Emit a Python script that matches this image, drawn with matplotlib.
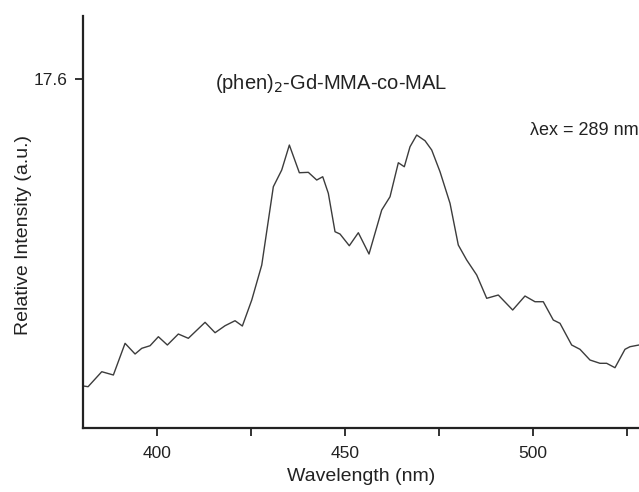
import matplotlib
matplotlib.use("Agg")
import matplotlib.pyplot as plt

plt.rcParams['font.family'] = ['Liberation Sans', 'DejaVu Sans']

wavelength = [380.4, 381.65, 385.29, 388.38, 391.49, 394.15, 395.93, 398.14, 400.35, 402.74,
              405.66, 408.32, 412.77, 415.43, 418.09, 420.74, 422.69, 425.19, 427.85, 430.93,
              433.16, 435.19, 437.85, 440.24, 442.47, 444.07, 445.56, 447.34, 448.67, 451.14,
              453.54, 456.38, 459.76, 461.97, 464.18, 465.77, 467.29, 469.07, 471.28, 473.06,
              475.27, 477.93, 480.13, 482.37, 485.03, 487.69, 490.77, 494.60, 497.87, 500.53,
              502.74, 505.40, 507.18, 510.29, 512.50, 515.16, 517.82, 519.60, 521.81, 524.47,
              525.80, 528.19]
intensity = [2.118, 2.083, 2.839, 2.673, 4.271, 3.732, 4.019, 4.150, 4.604, 4.186,
             4.740, 4.524, 5.330, 4.806, 5.159, 5.411, 5.144, 6.455, 8.220, 12.169,
             13.011, 14.272, 12.875, 12.895, 12.507, 12.673, 11.836, 9.899, 9.783, 9.193,
             9.849, 8.775, 10.994, 11.664, 13.379, 13.177, 14.186, 14.776, 14.489, 14.020,
             12.925, 11.332, 9.229, 8.472, 7.716, 6.541, 6.707, 5.951, 6.657, 6.369,
             6.369, 5.446, 5.280, 4.186, 3.969, 3.429, 3.263, 3.263, 3.041, 3.969,
             4.100, 4.186]
x_major = [400, 450, 500]
x_minor = [425, 475, 525]
y_ticks = [17.6]

W, H = 639, 492
fig = plt.figure(figsize=(W / 100, H / 100), dpi=100)
left, right, top, bottom = 83, 639, 16, 428
ax = fig.add_axes([left / W, 1 - bottom / H, (right - left) / W, (bottom - top) / H])

ax.plot(wavelength, intensity, color='#3c3c3c', lw=1.0, solid_joinstyle='round')
ax.set_xlim(380.3, 528.2)
ax.set_ylim(0, 20.78)

for s in ['top', 'right']:
    ax.spines[s].set_visible(False)
for s in ['left', 'bottom']:
    ax.spines[s].set_linewidth(1.6)
    ax.spines[s].set_color('#222222')

ax.set_xticks(x_major)
ax.set_xticks(x_minor, minor=True)
ax.set_yticks(y_ticks)
ax.set_yticklabels(['17.6'])
ax.tick_params(axis='both', which='both', direction='out', length=6, width=1.3,
               color='#222222', labelsize=12.5, labelcolor='#222222')
ax.tick_params(axis='x', pad=7)
ax.tick_params(axis='y', pad=5)

ax.set_xlabel('Wavelength (nm)', fontsize=14, color='#222222', labelpad=5)
ax.set_ylabel('Relative Intensity (a.u.)', fontsize=14, color='#222222')
ax.yaxis.set_label_coords(-0.092, 0.468)

ax.text(0.446, 0.837, '(phen)$_2$-Gd-MMA-co-MAL', transform=ax.transAxes,
        fontsize=14.5, ha='center', va='center', color='#222222')
ax.text(0.999, 0.722, 'λex = 289 nm', transform=ax.transAxes,
        fontsize=13, ha='right', va='center', color='#222222')

fig.savefig('out.png', dpi=100)
